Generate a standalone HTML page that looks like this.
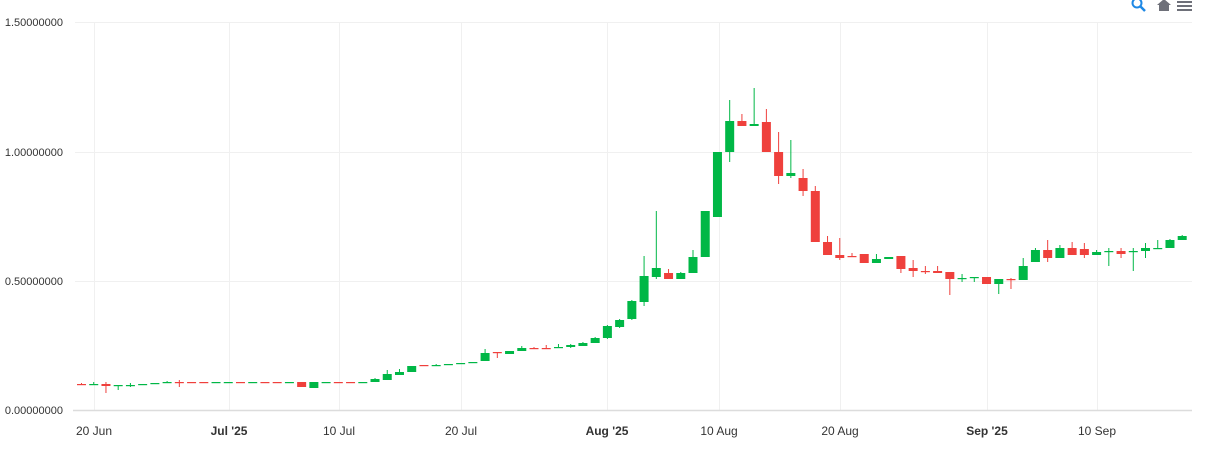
<!DOCTYPE html>
<html><head><meta charset="utf-8"><style>
html,body{margin:0;padding:0;background:#fff;}
svg{display:block;font-family:"Liberation Sans",sans-serif;}
</style></head><body>
<svg id="c" width="1212" height="449" viewBox="0 0 1212 449">
<g stroke="#f0f0f0" stroke-width="1">
<line x1="75" y1="22.5" x2="1192" y2="22.5"/>
<line x1="75" y1="152.5" x2="1192" y2="152.5"/>
<line x1="75" y1="281.5" x2="1192" y2="281.5"/>
<line x1="94.5" y1="22" x2="94.5" y2="410"/>
<line x1="229.5" y1="22" x2="229.5" y2="410"/>
<line x1="339.5" y1="22" x2="339.5" y2="410"/>
<line x1="461.5" y1="22" x2="461.5" y2="410"/>
<line x1="607.5" y1="22" x2="607.5" y2="410"/>
<line x1="719.5" y1="22" x2="719.5" y2="410"/>
<line x1="840.5" y1="22" x2="840.5" y2="410"/>
<line x1="987.5" y1="22" x2="987.5" y2="410"/>
<line x1="1097.5" y1="22" x2="1097.5" y2="410"/>
</g>
<line x1="73" y1="410.5" x2="1192" y2="410.5" stroke="#dcdcdc" stroke-width="1.5"/>
<g font-size="11" fill="#333" text-anchor="end">
<text x="63" y="26">1.50000000</text>
<text x="63" y="156">1.00000000</text>
<text x="63" y="285">0.50000000</text>
<text x="63" y="414">0.00000000</text>
</g>
<g font-size="12" fill="#333" text-anchor="middle">
<text x="94" y="435">20 Jun</text>
<text x="229" y="435" font-weight="bold">Jul '25</text>
<text x="339" y="435">10 Jul</text>
<text x="461" y="435">20 Jul</text>
<text x="607" y="435" font-weight="bold">Aug '25</text>
<text x="719" y="435">10 Aug</text>
<text x="840" y="435">20 Aug</text>
<text x="987" y="435" font-weight="bold">Sep '25</text>
<text x="1097" y="435">10 Sep</text>
</g>
<g id="cd"></g>
<g>
<circle cx="1137" cy="3" r="4.5" fill="none" stroke="#1e88e5" stroke-width="2"/>
<line x1="1140" y1="6" x2="1145" y2="11" stroke="#1e88e5" stroke-width="2.5"/>
<path d="M1157 5 L1164 -1 L1171 5 L1169 5 L1169 11 L1159 11 L1159 5 Z" fill="#6e7079"/>
<rect x="1177" y="1" width="15" height="2" fill="#6e7079"/>
<rect x="1177" y="5" width="15" height="2" fill="#6e7079"/>
<rect x="1177" y="9" width="15" height="2" fill="#6e7079"/>
</g>
</svg>
<script>
// [top, bottom, wickTop, wickBottom, g/r]
var d=[
[384,385,383,385,'r'],[384,385,382,385,'g'],[384,386,382,393,'r'],[385,386,385,390,'g'],[385,386,383,387,'g'],
[384,385,384,385,'g'],[383,384,383,384,'g'],[382,383,381,383,'g'],[382,383,380,387,'r'],[382,383,382,383,'r'],
[382,383,382,383,'r'],[382,383,382,383,'g'],[382,383,382,383,'g'],[382,383,382,383,'r'],[382,383,382,383,'g'],
[382,383,382,383,'r'],[382,383,382,383,'r'],[382,383,382,383,'g'],[382,387,382,387,'r'],[382,388,382,388,'g'],
[382,383,382,383,'g'],[382,383,382,383,'r'],[382,383,382,383,'r'],[382,383,382,383,'g'],[379,382,378,382,'g'],
[374,380,370,380,'g'],[372,375,369,375,'g'],[366,372,366,372,'g'],[365,366,365,366,'r'],[365,366,364,366,'g'],
[364,365,364,365,'g'],[363,364,363,364,'g'],[362,363,362,363,'g'],[353,361,349,361,'g'],[352,353,352,358,'r'],
[351,354,351,354,'g'],[348,351,346,351,'g'],[348,349,347,349,'r'],[348,349,345,349,'r'],[347,348,344,348,'g'],
[345,347,344,348,'g'],[343,346,342,346,'g'],[338,343,337,343,'g'],[326,338,325,339,'g'],[320,327,319,328,'g'],
[301,319,300,320,'g'],[276,302,256,306,'g'],[268,277,211,279,'g'],[273,279,269,279,'r'],[273,279,272,279,'g'],
[257,273,250,273,'g'],[211,257,211,257,'g'],[152,217,152,217,'g'],[121,152,100,162,'g'],[121,126,114,126,'r'],
[124,126,88,126,'g'],[122,152,109,152,'r'],[152,176,132,184,'r'],[173,176,140,178,'g'],[178,191,169,196,'r'],
[191,242,186,242,'r'],[242,255,236,255,'r'],[255,258,238,260,'r'],[256,257,253,257,'r'],[254,263,254,263,'r'],
[259,263,254,263,'g'],[257,259,257,259,'g'],[256,269,256,273,'r'],[268,271,260,277,'r'],[271,272,266,274,'r'],
[271,273,266,273,'r'],[272,279,272,295,'r'],[278,279,274,282,'g'],[277,278,277,282,'g'],[277,284,277,284,'r'],
[279,284,279,294,'g'],[279,280,278,289,'r'],[266,280,258,280,'g'],[250,262,248,262,'g'],[250,258,240,262,'r'],
[248,258,245,258,'g'],[248,255,242,255,'r'],[249,255,243,258,'r'],[252,255,250,255,'g'],[251,252,248,266,'g'],
[251,254,248,258,'r'],[251,252,248,271,'g'],[248,251,243,258,'g'],[248,249,240,249,'g'],[240,248,239,248,'g'],
[236,240,235,240,'g']];
var g=document.getElementById('cd'),s='';
for(var i=0;i<d.length;i++){var x=81.5+i*12.23,c=d[i],col=c[4]=='g'?'#00b746':'#ef403c';
var h=Math.max(c[1]-c[0],1.2);
s+='<line x1="'+x+'" x2="'+x+'" y1="'+c[2]+'" y2="'+c[3]+'" stroke="'+col+'" stroke-width="1"/>';
s+='<rect x="'+(x-4.5)+'" y="'+c[0]+'" width="9" height="'+h+'" fill="'+col+'"/>';}
g.innerHTML=s;
</script>
</body></html>
